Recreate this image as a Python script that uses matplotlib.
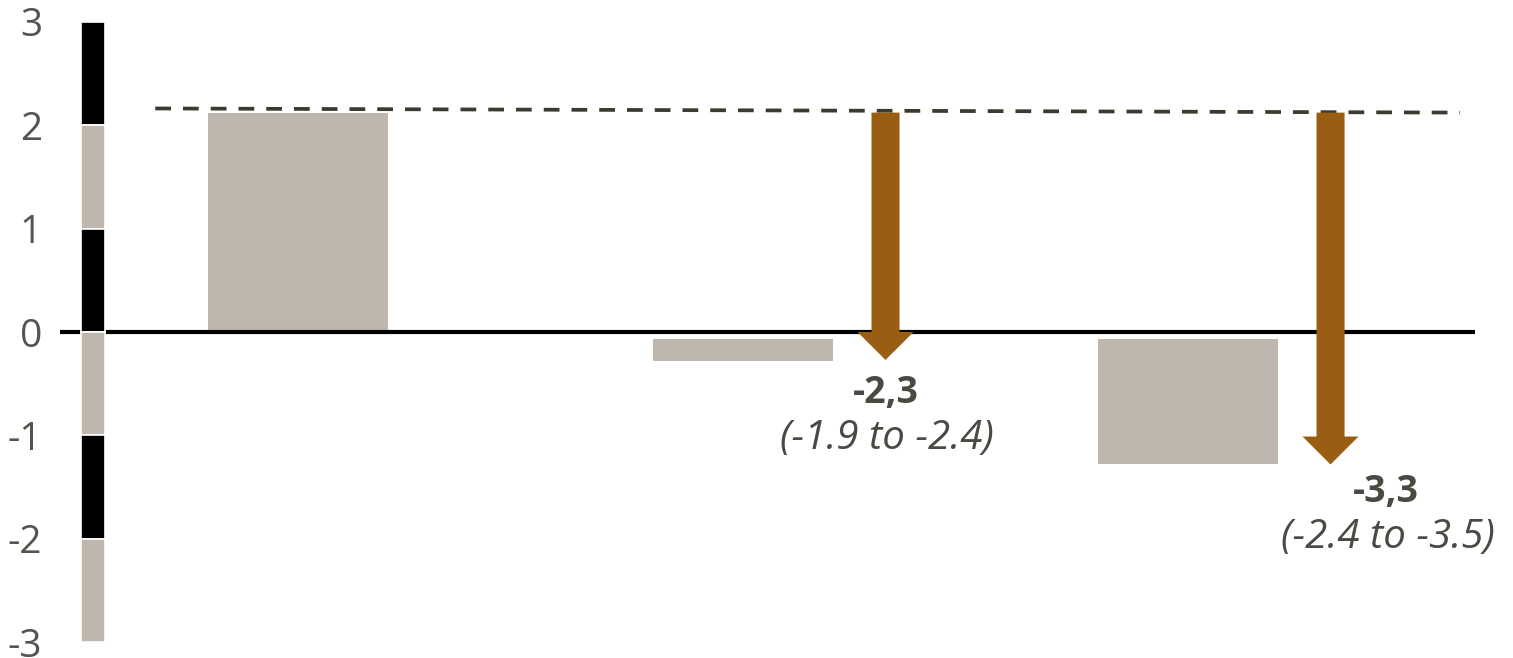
import numpy as np
import matplotlib.pyplot as plt
from matplotlib.patches import FancyArrow

plt.rcParams['font.family'] = ['Open Sans', 'DejaVu Sans']

# values
bar_pos = [0, 1, 2]
bar_values = [2.12, -0.28, -1.28]
baseline_start = 2.16
baseline_end = 2.12
arrow_tips = [-0.27, -1.28]
arrow_main = ['-2,3', '-3,3']
arrow_range = ['(-1.9 to -2.4)', '(-2.4 to -3.5)']
scale_ticks = [-3, -2, -1, 0, 1, 2, 3]

grey = '#bfb7ad'
brown = '#9a5d14'
txt = '#4a4a42'
gap = 0.07

fig = plt.figure(figsize=(15.13, 6.58), dpi=100)
ax = fig.add_axes([60 / 1513, 0, 1 - 60 / 1513, 1])
ax.set_xlim(-0.535, 2.730)
ax.set_ylim(-3.15, 3.208)
for s in ax.spines.values():
    s.set_visible(False)
ax.set_xticks([])
ax.set_yticks(scale_ticks)
ax.set_yticklabels([str(t) for t in scale_ticks])
ax.tick_params(axis='y', length=0, pad=13, labelsize=28, labelcolor='#55554d')

# scale strip, alternating black / grey unit segments
for k, lo in enumerate(range(2, -4, -1)):
    ax.bar(-0.461, 1, bottom=lo, width=0.054,
           color='black' if k % 2 == 0 else grey,
           edgecolor='white', linewidth=1.2, zorder=3)

ax.hlines(0, -0.535, 2.645, color='black', linewidth=3, zorder=2)

# bars (negative ones hang a little below the zero line)
for x, v in zip(bar_pos, bar_values):
    if v >= 0:
        ax.bar(x, v, width=0.405, color=grey, zorder=1)
    else:
        ax.bar(x, v + gap, bottom=-gap, width=0.405, color=grey, zorder=1)

ax.plot([-0.321, 2.611], [baseline_start, baseline_end], color='#3d3b2f',
        linewidth=2.7, dashes=(4.2, 3.2), zorder=2)

for i, (tip, main, rng) in enumerate(zip(arrow_tips, arrow_main, arrow_range)):
    x = bar_pos[i + 1] + 0.32
    ax.add_patch(FancyArrow(x, baseline_end, 0, tip - baseline_end, width=0.063,
                            head_width=0.126, head_length=0.27,
                            length_includes_head=True, color=brown,
                            linewidth=0, zorder=4))
    dx = 0 if i == 0 else 40
    dy = -24 if i == 0 else -20
    ax.annotate(main, (x, tip), xytext=(dx, dy), textcoords='offset points',
                ha='center', va='center', fontsize=27, fontweight='bold', color=txt)
    ax.annotate(rng, (x, tip), xytext=(dx + 1, dy - 33), textcoords='offset points',
                ha='center', va='center', fontsize=29, fontstyle='italic', color=txt)

fig.savefig('out.png', dpi=100)
